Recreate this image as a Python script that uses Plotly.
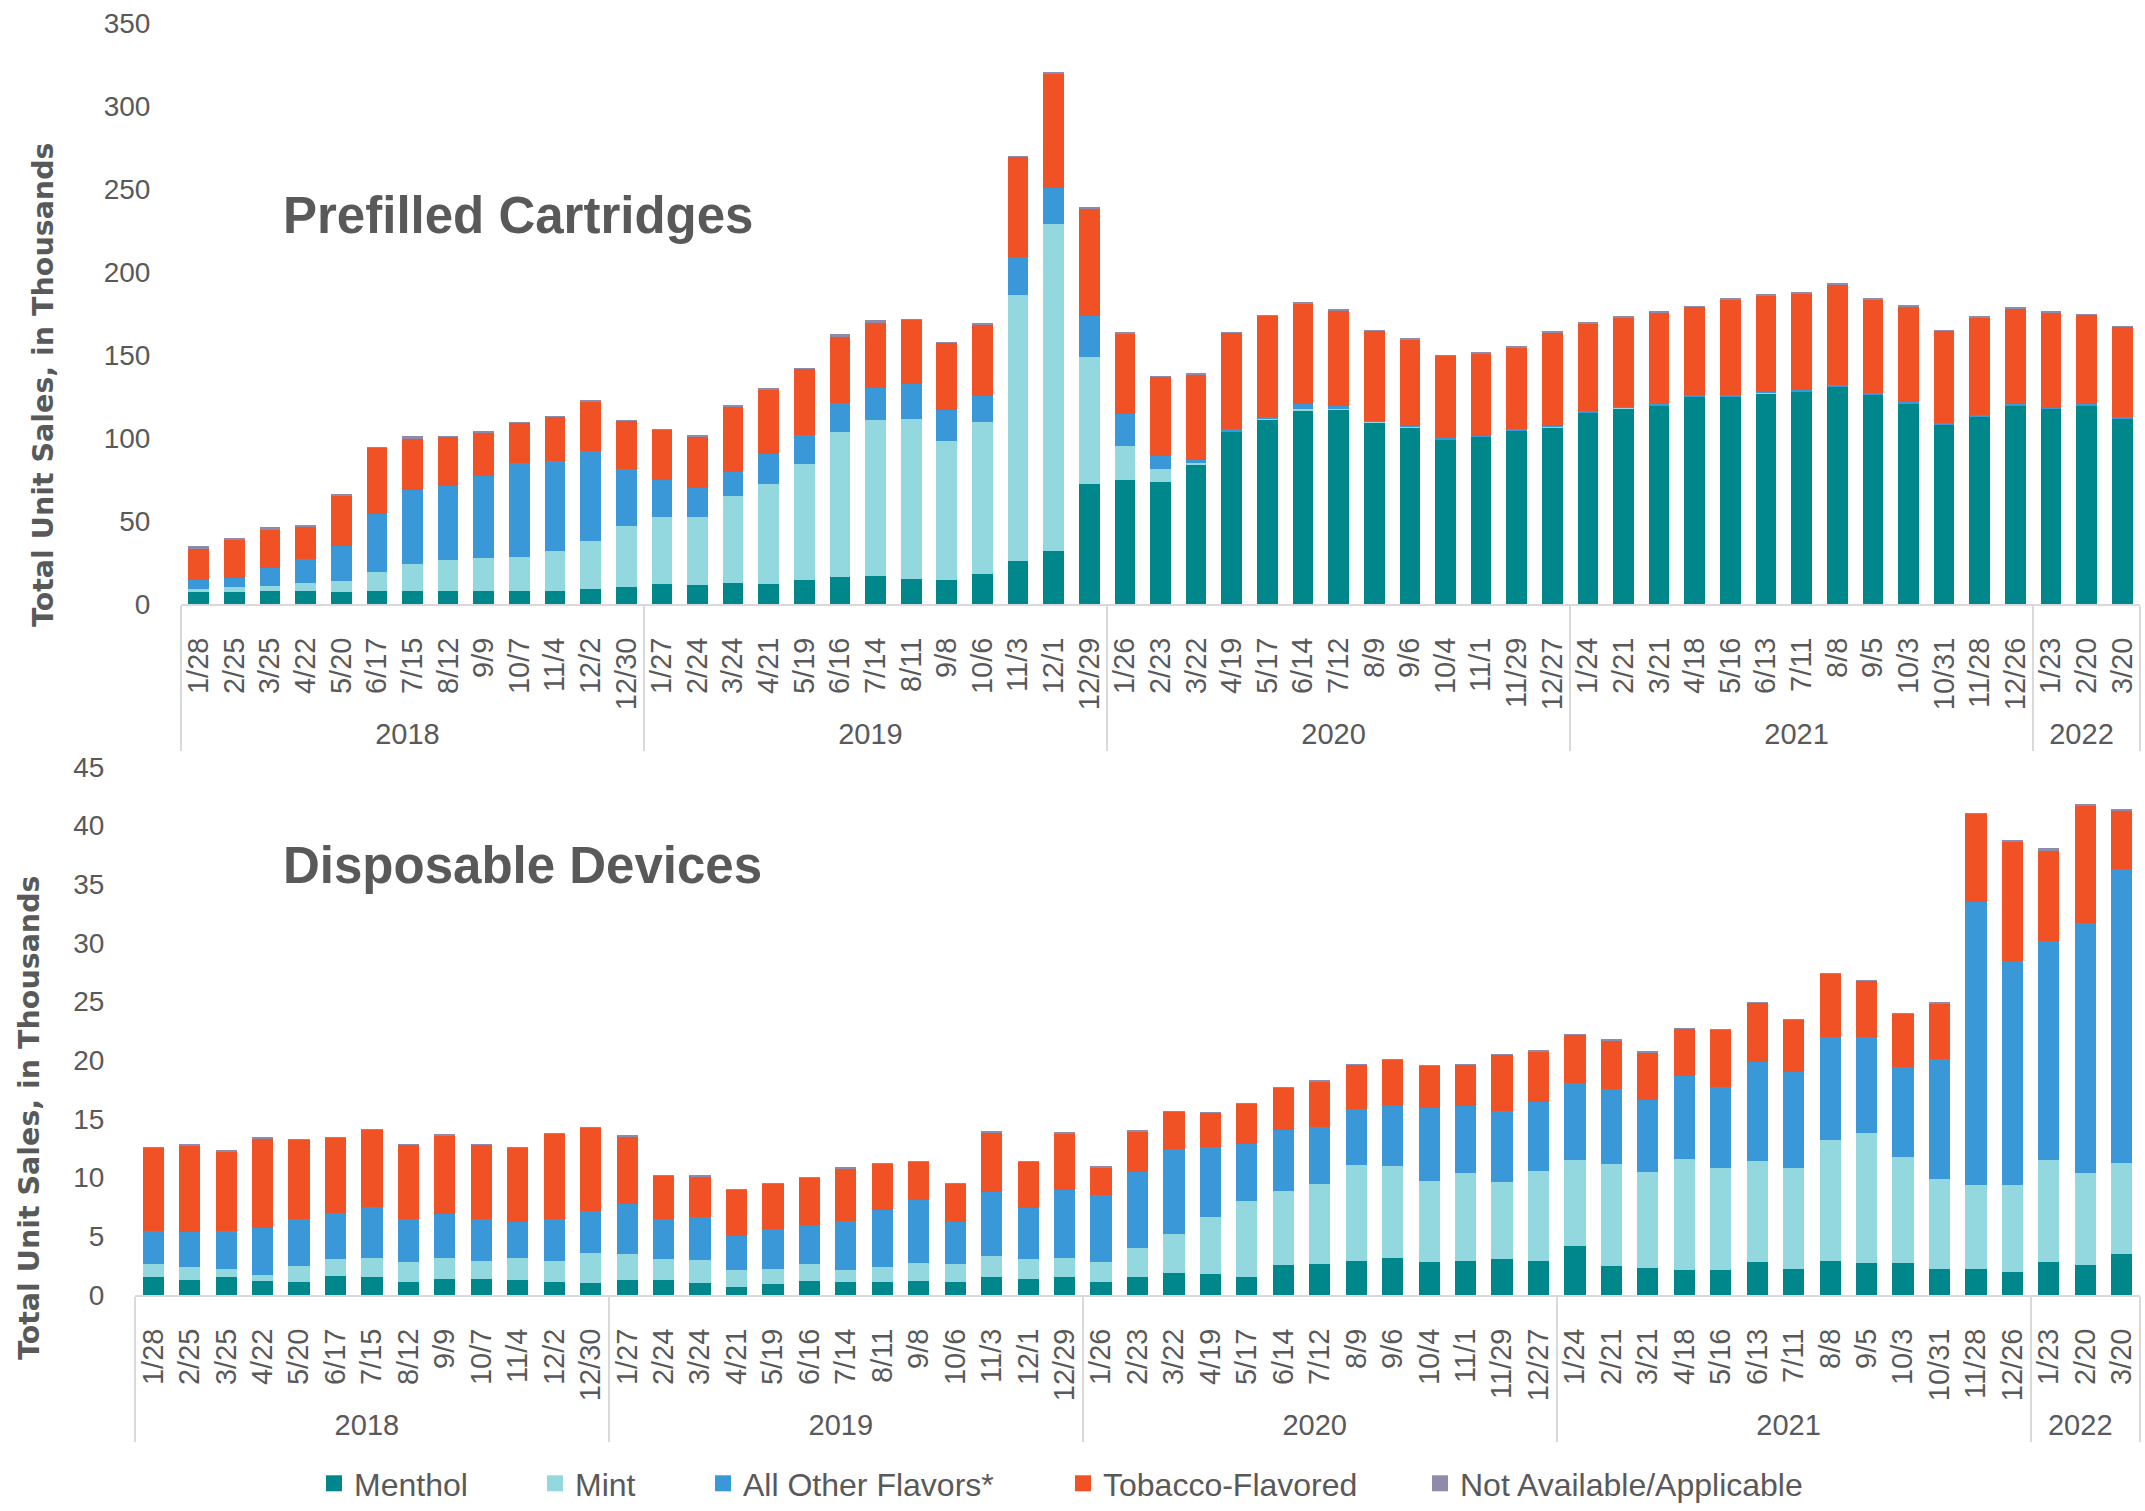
import plotly.graph_objects as go

years = ["2018"] * 13 + ["2019"] * 13 + ["2020"] * 13 + ["2021"] * 13 + ["2022"] * 3
dates = [
    "1/28", "2/25", "3/25", "4/22", "5/20", "6/17", "7/15", "8/12", "9/9", "10/7", "11/4", "12/2", "12/30",
    "1/27", "2/24", "3/24", "4/21", "5/19", "6/16", "7/14", "8/11", "9/8", "10/6", "11/3", "12/1", "12/29",
    "1/26", "2/23", "3/22", "4/19", "5/17", "6/14", "7/12", "8/9", "9/6", "10/4", "11/1", "11/29", "12/27",
    "1/24", "2/21", "3/21", "4/18", "5/16", "6/13", "7/11", "8/8", "9/5", "10/3", "10/31", "11/28", "12/26",
    "1/23", "2/20", "3/20",
]

series_names = ["Menthol", "Mint", "All Other Flavors*", "Tobacco-Flavored", "Not Available/Applicable"]
series_colors = ["#00878C", "#92D8DE", "#3A98D9", "#F05125", "#8F8BAA"]

# Prefilled Cartridges (thousands of units)
cart_menthol = [7.2, 7.4, 7.6, 7.6, 7.4, 7.9, 7.9, 7.9, 8.1, 7.6, 7.9, 8.8, 10.5,
                12.2, 11.2, 12.4, 12.2, 14.6, 16.0, 16.7, 14.8, 14.3, 17.9, 25.8, 32.0, 72.1,
                74.5, 73.3, 84.7, 104.3, 111.7, 116.9, 117.4, 110.0, 106.9, 99.5, 101.0, 105.0, 106.9,
                115.8, 118.4, 119.8, 125.3, 125.3, 127.4, 128.4, 131.5, 126.7, 121.0, 108.6, 113.4, 119.8,
                117.9, 119.8, 112.2]
cart_mint = [1.8, 2.6, 3.4, 5.3, 6.4, 11.4, 16.0, 18.8, 19.8, 21.0, 24.3, 29.4, 36.3,
             40.5, 41.5, 52.5, 59.9, 69.9, 87.6, 94.3, 96.7, 83.8, 91.9, 160.8, 197.1, 76.8,
             20.7, 8.1, 0.3, 0.2, 0.2, 0.5, 0.2, 0.2, 0.2, 0.2, 0.2, 0.2, 0.2,
             0.2, 0.2, 0.2, 0.2, 0.2, 0.2, 0.2, 0.2, 0.2, 0.2, 0.2, 0.2, 0.2,
             0.2, 0.2, 0.2]
cart_other = [5.3, 5.8, 10.5, 14.1, 21.0, 35.1, 44.8, 44.7, 49.2, 56.4, 54.2, 53.9, 34.6,
              22.2, 17.2, 14.8, 18.6, 17.6, 17.6, 19.5, 21.0, 18.8, 15.7, 22.9, 22.0, 24.8,
              19.4, 8.1, 1.9, 0.8, 0.7, 2.9, 1.7, 0.4, 0.4, 0.3, 0.3, 0.3, 0.3,
              0.3, 0.3, 0.3, 0.3, 0.3, 0.3, 0.3, 0.3, 0.3, 0.3, 0.3, 0.4, 0.3,
              0.3, 0.3, 0.3]
cart_tobacco = [19.7, 23.6, 23.4, 19.3, 31.1, 40.1, 30.6, 29.8, 26.7, 24.5, 26.7, 30.3, 29.3,
                30.4, 31.5, 39.9, 39.1, 40.1, 40.4, 39.2, 39.3, 40.9, 43.2, 60.4, 69.2, 65.2,
                48.9, 47.7, 52.0, 58.4, 61.6, 61.1, 57.8, 54.6, 52.4, 50.1, 50.1, 49.6, 56.6,
                53.4, 54.4, 55.8, 53.7, 58.0, 58.5, 58.5, 60.8, 56.8, 58.2, 56.1, 59.0, 58.2,
                57.7, 54.4, 54.8]
cart_na = [1.0, 0.3, 1.4, 1.4, 0.3, 0.3, 1.7, 0.3, 0.7, 0.3, 0.5, 0.5, 0.5,
           0.2, 0.2, 0.2, 0.2, 0.3, 1.2, 1.4, 0.3, 0.2, 0.5, 0.2, 0.2, 0.2,
           0.3, 0.2, 0.2, 0.3, 0.3, 0.5, 0.5, 0.3, 0.3, 0.2, 0.2, 0.2, 0.4,
           0.3, 0.3, 0.4, 0.4, 0.4, 0.4, 0.5, 0.6, 0.3, 0.4, 0.3, 0.4, 0.4,
           0.4, 0.4, 0.4]

# Disposable Devices (thousands of units)
disp_menthol = [1.50, 1.30, 1.53, 1.17, 1.08, 1.63, 1.57, 1.14, 1.37, 1.37, 1.24, 1.14, 1.04,
                1.30, 1.24, 1.01, 0.72, 0.95, 1.21, 1.14, 1.14, 1.17, 1.14, 1.50, 1.37, 1.50,
                1.08, 1.53, 1.89, 1.79, 1.50, 2.54, 2.64, 2.93, 3.13, 2.80, 2.87, 3.06, 2.93,
                4.21, 2.51, 2.28, 2.15, 2.15, 2.84, 2.25, 2.87, 2.71, 2.74, 2.18, 2.25, 1.92,
                2.80, 2.54, 3.49]
disp_mint = [1.14, 1.11, 0.65, 0.56, 1.40, 1.47, 1.56, 1.70, 1.79, 1.50, 1.89, 1.76, 2.51,
             2.19, 1.82, 1.99, 1.40, 1.30, 1.43, 1.01, 1.24, 1.57, 1.53, 1.83, 1.69, 1.66,
             1.76, 2.48, 3.29, 4.83, 6.49, 6.30, 6.78, 8.16, 7.89, 6.92, 7.53, 6.59, 7.67,
             7.30, 8.67, 8.22, 9.42, 8.71, 8.60, 8.61, 10.33, 11.08, 9.00, 7.73, 7.14, 7.47,
             8.68, 7.83, 7.79]
disp_other = [2.81, 2.94, 3.27, 3.94, 4.01, 3.88, 4.34, 3.65, 3.72, 3.62, 3.07, 3.59, 3.62,
              4.24, 3.43, 3.68, 2.93, 3.36, 3.36, 4.14, 4.83, 5.38, 3.59, 5.41, 4.37, 5.81,
              5.67, 6.49, 7.28, 5.97, 4.89, 5.25, 4.93, 4.76, 5.18, 6.22, 5.74, 6.03, 5.87,
              6.55, 6.39, 6.10, 7.11, 6.84, 8.38, 8.15, 8.80, 8.21, 7.66, 10.21, 24.10, 19.04,
              18.71, 21.29, 25.04]
disp_tobacco = [7.10, 7.43, 6.81, 7.70, 6.78, 6.42, 6.65, 6.36, 6.75, 6.32, 6.39, 7.27, 7.08,
                5.80, 3.68, 3.46, 3.95, 3.91, 4.01, 4.54, 3.97, 3.26, 3.26, 5.12, 3.95, 4.82,
                2.41, 3.46, 3.19, 2.96, 3.46, 3.58, 3.88, 3.81, 3.85, 3.59, 3.49, 4.80, 4.33,
                4.11, 4.15, 4.10, 4.05, 4.90, 5.09, 4.47, 5.42, 4.77, 4.57, 4.76, 7.53, 10.14,
                7.73, 10.04, 4.89]
disp_na = [0.04, 0.03, 0.03, 0.03, 0.03, 0.06, 0.03, 0.03, 0.03, 0.03, 0.03, 0.05, 0.05,
           0.05, 0.03, 0.03, 0.03, 0.03, 0.05, 0.03, 0.05, 0.04, 0.03, 0.05, 0.05, 0.05,
           0.03, 0.03, 0.03, 0.04, 0.03, 0.04, 0.03, 0.03, 0.03, 0.04, 0.03, 0.03, 0.05,
           0.05, 0.05, 0.03, 0.03, 0.05, 0.03, 0.03, 0.03, 0.06, 0.05, 0.05, 0.05, 0.23,
           0.16, 0.17, 0.20]

panel_titles = ["Prefilled Cartridges", "Disposable Devices"]
y_title = "Total Unit Sales, in Thousands"

W, H = 2145, 1511
GRAY = "#595959"
LINE = "#D9D9D9"
YTICKFONT = dict(family="Liberation Sans, Arial, sans-serif", size=28, color=GRAY)
XTICKFONT = dict(family="Liberation Sans, Arial, sans-serif", size=29, color=GRAY)

fig = go.Figure()

cart_series = [cart_menthol, cart_mint, cart_other, cart_tobacco, cart_na]
disp_series = [disp_menthol, disp_mint, disp_other, disp_tobacco, disp_na]
xcat = [years, dates]

for name, color, vals in zip(series_names, series_colors, cart_series):
    fig.add_trace(go.Bar(x=xcat, y=vals, name=name, marker=dict(color=color, line=dict(width=0)),
                         xaxis="x", yaxis="y", showlegend=False))
for name, color, vals in zip(series_names, series_colors, disp_series):
    fig.add_trace(go.Bar(x=xcat, y=vals, name=name, marker=dict(color=color, line=dict(width=0)),
                         xaxis="x2", yaxis="y2", showlegend=False))

# legend entries (one legend per item so each can be placed like the original)
legend_text_x = [354, 575, 743, 1103, 1460]
legend_keys = ["legend", "legend2", "legend3", "legend4", "legend5"]
for i, (name, color) in enumerate(zip(series_names, series_colors)):
    fig.add_trace(go.Scatter(x=[None], y=[None], mode="markers", name=name,
                             marker=dict(symbol="square", size=16, color=color),
                             xaxis="x3", yaxis="y3", legend=legend_keys[i], showlegend=True))

def px_x(v):
    return v / W

def px_y(v):
    return 1 - v / H

common_x = dict(
    type="multicategory", showline=True, linecolor=LINE, linewidth=2, showgrid=False,
    ticks="", tickangle=-90, tickfont=XTICKFONT, showdividers=True, dividercolor=LINE,
    dividerwidth=2, automargin=False, zeroline=False, ticklabelstandoff=20,
)
common_y = dict(showline=False, showgrid=False, zeroline=False, ticks="outside", ticklen=24,
                tickcolor="rgba(0,0,0,0)", tickfont=YTICKFONT, automargin=False)

layout = dict(
    width=W, height=H, autosize=False,
    margin=dict(l=0, r=0, t=0, b=0, pad=0),
    paper_bgcolor="white", plot_bgcolor="white",
    barmode="stack", bargap=0.42,
    xaxis=dict(domain=[px_x(181), px_x(2140)], anchor="y", **common_x),
    yaxis=dict(domain=[px_y(604), px_y(23.5)], range=[0, 350], dtick=50, anchor="x", **common_y),
    xaxis2=dict(domain=[px_x(135), px_x(2140)], anchor="y2", **common_x),
    yaxis2=dict(domain=[px_y(1295), px_y(766.8)], range=[0, 45], dtick=5, anchor="x2", **common_y),
    xaxis3=dict(domain=[0, 0.01], visible=False, anchor="y3"),
    yaxis3=dict(domain=[0, 0.01], visible=False, anchor="x3"),
    showlegend=True,
)
for i, key in enumerate(legend_keys):
    layout[key] = dict(
        x=px_x(legend_text_x[i] - 40), xanchor="left", y=0, yanchor="bottom",
        orientation="h", bgcolor="rgba(0,0,0,0)",
        font=dict(family="Liberation Sans, Arial, sans-serif", size=32, color=GRAY),
    )
fig.update_layout(**layout)

TITLEFONT = dict(family="Liberation Sans, Arial, sans-serif", size=51, color=GRAY, weight="bold")
YTFONT = dict(family="DejaVu Sans, Verdana, sans-serif", size=28.5, color=GRAY, weight="bold")
annotations = [
    dict(text=panel_titles[0], x=px_x(281), y=px_y(216), xref="paper", yref="paper",
         xanchor="left", yanchor="middle", showarrow=False, font=TITLEFONT),
    dict(text=panel_titles[1], x=px_x(281), y=px_y(865), xref="paper", yref="paper",
         xanchor="left", yanchor="middle", showarrow=False, font=TITLEFONT),
    dict(text=y_title, x=px_x(43), y=px_y(385), xref="paper", yref="paper", textangle=-90,
         xanchor="center", yanchor="middle", showarrow=False, font=YTFONT),
    dict(text=y_title, x=px_x(29), y=px_y(1118), xref="paper", yref="paper", textangle=-90,
         xanchor="center", yanchor="middle", showarrow=False, font=YTFONT),
]
fig.update_layout(annotations=annotations)

fig.write_html("out.html", config={"displayModeBar": False},
               post_script="document.body.style.margin='0px';")
